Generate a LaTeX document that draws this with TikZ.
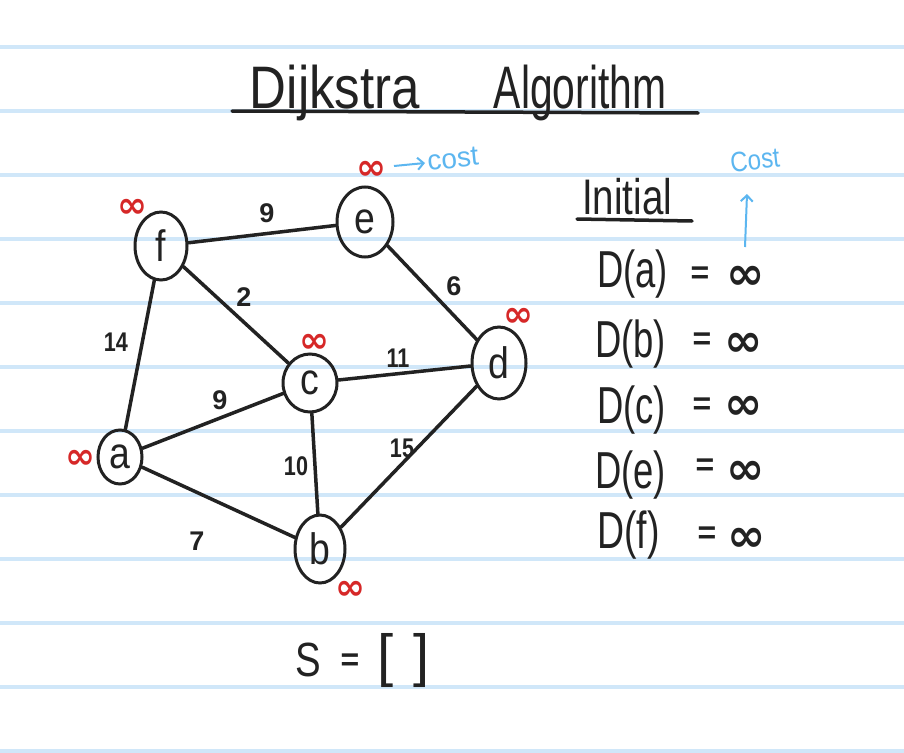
\documentclass[tikz,border=0pt]{standalone}
\usepackage{fontspec}
\setmainfont{Liberation Sans}
\newfontfamily\hand{Liberation Sans}
\newfontfamily\symf{DejaVu Sans}
\usetikzlibrary{shapes.geometric,arrows.meta}
\definecolor{rulec}{RGB}{208,231,249}
\definecolor{ink}{RGB}{34,34,34}
\definecolor{redink}{RGB}{214,40,40}
\definecolor{blueink}{RGB}{92,182,240}
\newcommand{\hx}[2]{\scalebox{#1}[1]{#2}}
\begin{document}
\begin{tikzpicture}[x=1pt,y=-1pt,
  rulel/.style={draw=rulec,line width=4.5pt},
  vtx/.style={draw=ink,line width=3pt,ellipse,inner sep=0pt,text=ink,
    font=\hand\fontsize{44}{44}\selectfont},
  edgel/.style={draw=ink,line width=3.5pt,line cap=round},
  wlab/.style={text=ink,inner sep=0pt,font=\hand\bfseries\fontsize{27}{27}\selectfont},
  rinf/.style={text=redink,inner sep=0pt,font=\symf\bfseries\fontsize{36}{36}\selectfont},
  binf/.style={text=ink,inner sep=0pt,font=\symf\bfseries\fontsize{46}{46}\selectfont},
  dtxt/.style={text=ink,inner sep=0pt,anchor=base west,font=\hand\fontsize{52}{52}\selectfont},
  eqtxt/.style={text=ink,inner sep=0pt,font=\hand\bfseries\fontsize{32}{32}\selectfont},
  bluet/.style={text=blueink,inner sep=0pt,font=\hand\fontsize{28}{28}\selectfont},
  bluearr/.style={draw=blueink,line width=2pt,-{Straight Barb[length=6pt,width=12pt]}},
  titlet/.style={text=ink,inner sep=0pt,anchor=base,font=\hand\fontsize{60}{60}\selectfont},
  uline/.style={draw=ink,line width=3.5pt,line cap=round}
]
\useasboundingbox[fill=white] (0,0) rectangle (904,752);
% ruled paper
\foreach \yy in {47,111,175,239,303,367,431,495,559,623,687,751}
  \draw[rulel] (0,\yy) -- (904,\yy);

% title
\node[titlet] (t1) at (335,108) {\hx{0.85}{Dijkstra}};
\node[titlet] (t2) at (580,108) {\hx{0.68}{Algorithm}};
\coordinate (ul1) at (232,111);
\coordinate (ul2) at (698,113);
\draw[uline] (ul1) -- (ul2);

% vertices
\node[vtx,minimum width=52pt,minimum height=68pt] (f) at (161,246) {\hx{0.85}{f}};
\node[vtx,minimum width=56pt,minimum height=70pt] (e) at (365,222) {\hx{0.85}{e}};
\node[vtx,minimum width=54pt,minimum height=58pt] (c) at (310,383) {\hx{0.85}{c}};
\node[vtx,minimum width=54pt,minimum height=72pt] (d) at (499,363) {\hx{0.85}{d}};
\node[vtx,minimum width=44pt,minimum height=54pt] (a) at (120,457) {\hx{0.85}{a}};
\node[vtx,minimum width=50pt,minimum height=68pt] (b) at (320,549) {\hx{0.85}{b}};

% edges
\draw[edgel] (f) -- (e);
\draw[edgel] (f) -- (c);
\draw[edgel] (f) -- (a);
\draw[edgel] (e) -- (d);
\draw[edgel] (c) -- (d);
\draw[edgel] (a) -- (c);
\draw[edgel] (c) -- (b);
\draw[edgel] (a) -- (b);
\draw[edgel] (b) -- (d);

% edge weights
\node[wlab] (wfe) at (267,213) {9};
\node[wlab] (wfc) at (244,297) {2};
\node[wlab] (wed) at (454,286) {6};
\node[wlab] (wfa) at (116,342) {\hx{0.8}{14}};
\node[wlab] (wcd) at (398,358) {\hx{0.8}{11}};
\node[wlab] (wac) at (220,400) {9};
\node[wlab] (wcb) at (296,466) {\hx{0.8}{10}};
\node[wlab] (wbd) at (402,448) {\hx{0.8}{15}};
\node[wlab] (wab) at (197,541) {7};

% red infinity costs
\node[rinf] (ie) at (371,170) {∞};
\node[rinf] (if) at (132,208) {∞};
\node[rinf] (ic) at (314,343) {∞};
\node[rinf] (id) at (518,317) {∞};
\node[rinf] (ia) at (80,459) {∞};
\node[rinf] (ib) at (350,590) {∞};

% blue annotations
\coordinate (ca1) at (394,166);
\coordinate (ca2) at (425,163);
\draw[bluearr] (ca1) -- (ca2);
\node[bluet,rotate=6] (cost1) at (453,159) {cost};
\node[bluet,rotate=6] (cost2) at (755,160) {\hx{0.86}{Cost}};
\coordinate (cb1) at (745,247);
\coordinate (cb2) at (747,194);
\draw[bluearr] (cb1) -- (cb2);

% initial table
\node[text=ink,inner sep=0pt,anchor=base west,font=\hand\fontsize{50}{50}\selectfont] (init) at (582,214) {\hx{0.77}{Initial}};
\coordinate (iu1) at (577,219);
\coordinate (iu2) at (692,221);
\draw[uline] (iu1) -- (iu2);

\node[dtxt] (da) at (597,287) {\hx{0.70}{D(a)}};
\node[dtxt] (db) at (595,357) {\hx{0.70}{D(b)}};
\node[dtxt] (dc) at (597,423) {\hx{0.70}{D(c)}};
\node[dtxt] (de) at (595,488) {\hx{0.70}{D(e)}};
\node[dtxt] (df) at (597,548) {\hx{0.72}{D(f)}};

\node[eqtxt] (ea) at (700,275) {=};
\node[eqtxt] (eb) at (702,341) {=};
\node[eqtxt] (ec) at (702,406) {=};
\node[eqtxt] (ee) at (705,467) {=};
\node[eqtxt] (ef) at (707,535) {=};

\node[binf] (va) at (746,278) {∞};
\node[binf] (vb) at (744,345) {∞};
\node[binf] (vc) at (744,408) {∞};
\node[binf] (ve) at (746,473) {∞};
\node[binf] (vf) at (747,540) {∞};

% S = [ ]
\node[text=ink,inner sep=0pt,font=\hand\fontsize{48}{48}\selectfont] (s) at (308,660) {\hx{0.8}{S}};
\node[eqtxt] (seq) at (350,662) {=};
\node[text=ink,inner sep=0pt,font=\hand\fontsize{58}{58}\selectfont] (lb) at (386,660) {[};
\node[text=ink,inner sep=0pt,font=\hand\fontsize{58}{58}\selectfont] (rb) at (422,660) {]};
\end{tikzpicture}
\end{document}
